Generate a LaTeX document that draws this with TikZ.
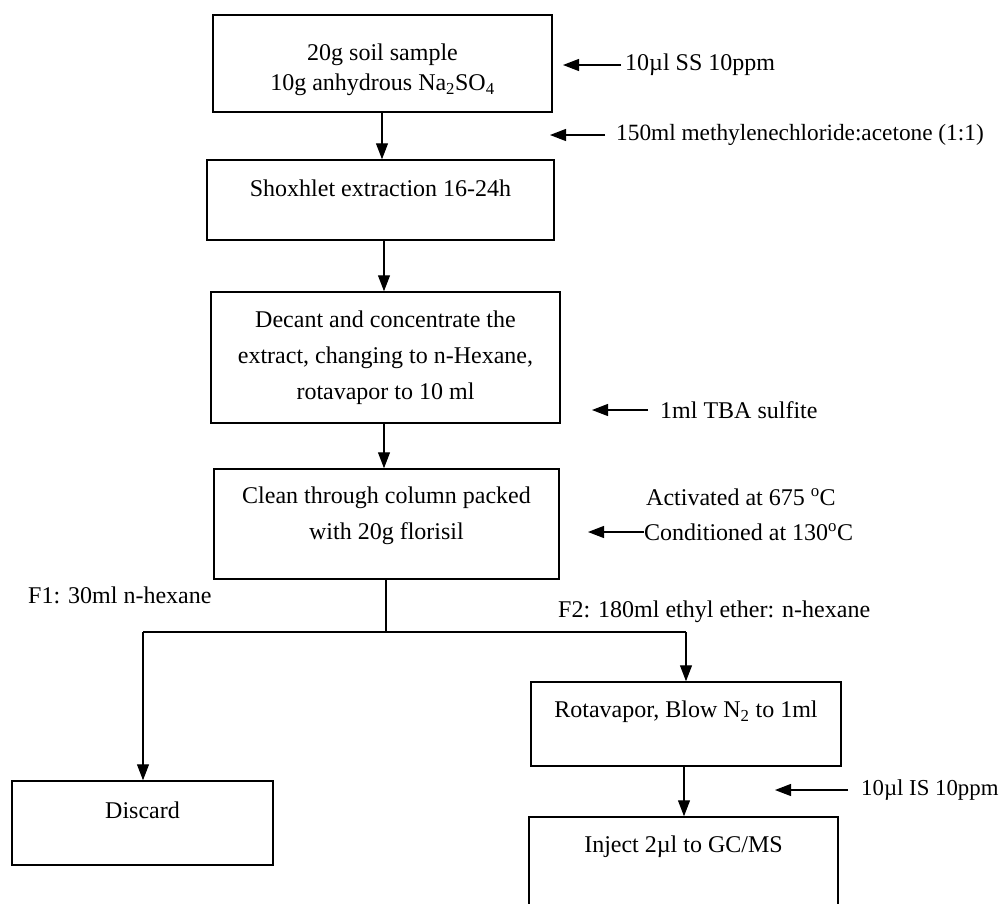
\documentclass[tikz,border=0pt]{standalone}
\usepackage{fontspec}
\setmainfont{Liberation Serif}
\usetikzlibrary{arrows.meta}
\begin{document}
\begin{tikzpicture}[x=1pt,y=-1pt,
  box/.style={draw, line width=1.5pt, rectangle, inner sep=0pt},
  txt/.style={font=\fontsize{24}{36}\selectfont, align=center, inner sep=0pt},
  lbl/.style={font=\fontsize{24}{30}\selectfont, inner sep=0pt, anchor=west},
  conn/.style={line width=1.2pt},
  arr/.style={conn, -{Triangle[length=16pt,width=12pt]}}]
\useasboundingbox (0,0) rectangle (1003,903);
\clip (0,0) rectangle (1003,903);
% boxes
\node[box, minimum width=339pt, minimum height=97pt] (b1) at (382.5,63.5) {};
\node[box, minimum width=347pt, minimum height=80pt] (b2) at (380.5,200) {};
\node[box, minimum width=349pt, minimum height=131pt] (b3) at (385.5,357.5) {};
\node[box, minimum width=345pt, minimum height=110pt] (b4) at (386.5,524) {};
\node[box, minimum width=261pt, minimum height=84pt] (b5) at (142.5,823) {};
\node[box, minimum width=310pt, minimum height=84pt] (b6) at (686,724) {};
\node[box, minimum width=309pt, minimum height=100pt] (b7) at (683.5,867) {};
% box texts
\node[txt, font=\fontsize{24}{30}\selectfont] (t1) at (382.5,70) {20g soil sample\\10g anhydrous Na\textsubscript{2}SO\textsubscript{4}};
\node[txt] (t2) at (380.5,188) {Shoxhlet extraction 16-24h};
\node[txt] (t3) at (385.5,358) {Decant and concentrate the\\extract, changing to n-Hexane,\\rotavapor to 10 ml};
\node[txt] (t4) at (386.5,516) {Clean through column packed\\with 20g florisil};
\node[txt] (t5) at (142.5,810) {Discard};
\node[txt] (t6) at (686,712) {Rotavapor, Blow N\textsubscript{2} to 1ml};
\node[txt] (t7) at (683.5,847) {Inject 2µl to GC/MS};
% main flow
\draw[arr] (b1.south -| 382,0) -- (b2.north -| 382,0);
\draw[arr] (b2.south -| 384,0) -- (b3.north -| 384,0);
\draw[arr] (b3.south -| 384,0) -- (b4.north -| 384,0);
\coordinate (split) at (386,632);
\coordinate (lt) at (143,632);
\coordinate (rt) at (686,632);
\draw[conn] (b4.south -| split) -- (split);
\draw[conn] (lt) -- (rt);
\draw[arr] (lt) -- (lt |- b5.north);
\draw[arr] (rt) -- (rt |- b6.north);
\draw[arr] (b6.south -| 684,0) -- (b7.north -| 684,0);
% side inputs
\node[lbl] (ss) at (625,65) {10µl SS 10ppm};
\coordinate (ssTip) at (563,65);
\draw[arr] ([xshift=-4pt]ss.west) -- (ssTip);
\node[lbl, font=\fontsize{23.3}{30}\selectfont] (mc) at (616,135) {150ml methylenechloride:acetone (1:1)};
\coordinate (mcTip) at (550,135);
\draw[arr] ([xshift=-11pt]mc.west) -- (mcTip);
\node[lbl] (tba) at (660,410) {1ml TBA sulfite};
\coordinate (tbaTip) at (592,410);
\draw[arr] ([xshift=-12pt]tba.west) -- (tbaTip);
\node[lbl] (act) at (646,497) {Activated at 675 \textsuperscript{o}C};
\node[lbl] (cond) at (644,532) {Conditioned at 130\textsuperscript{o}C};
\coordinate (condTip) at (588,532);
\draw[arr] (cond.west) -- (condTip);
\node[lbl] (f1) at (28,595) {F1: 30ml n-hexane};
\node[lbl] (f2) at (558,612) {F2: 180ml ethyl ether: n-hexane};
\node[lbl, font=\fontsize{22.8}{30}\selectfont] (is) at (861,790) {10µl IS 10ppm};
\coordinate (isTip) at (775,790);
\draw[arr] ([xshift=-13pt]is.west) -- (isTip);
\end{tikzpicture}
\end{document}
